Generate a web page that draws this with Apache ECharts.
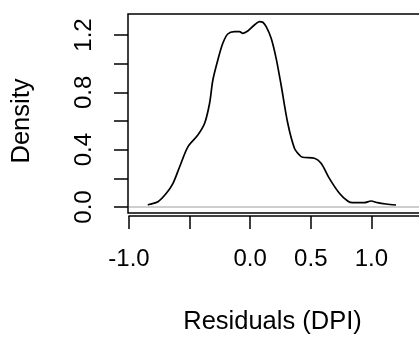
<!DOCTYPE html>
<html>
<head>
<meta charset="utf-8">
<script src="https://cdn.jsdelivr.net/npm/echarts@6/dist/echarts.min.js"></script>
<style>
  html, body { margin: 0; padding: 0; background: #fff; }
  #chart { width: 419px; height: 343px; }
</style>
</head>
<body>
<div id="chart"></div>
<script>
// density of residuals
const residX = [-0.845, -0.829, -0.761, -0.692, -0.637, -0.582, -0.514, -0.432, -0.376, -0.335,
  -0.308, -0.267, -0.226, -0.185, -0.13, -0.088, -0.061, -0.02, 0.035, 0.077,
  0.104, 0.132, 0.173, 0.214, 0.255, 0.31, 0.365, 0.406, 0.433, 0.53,
  0.585, 0.653, 0.736, 0.804, 0.846, 0.941, 0.997, 1.051, 1.12, 1.203];
const density = [0.014, 0.019, 0.037, 0.096, 0.165, 0.281, 0.42, 0.502, 0.584, 0.724,
  0.886, 1.026, 1.142, 1.207, 1.223, 1.223, 1.212, 1.228, 1.27, 1.293,
  1.289, 1.258, 1.177, 1.037, 0.851, 0.584, 0.41, 0.363, 0.347, 0.34,
  0.305, 0.2, 0.096, 0.042, 0.03, 0.03, 0.042, 0.03, 0.021, 0.014];
const xTicks = [-1.0, 0.0, 0.5, 1.0];      // labelled x ticks
const yTicks = [0.0, 0.4, 0.8, 1.2];       // labelled y ticks

const FONT = "'Liberation Sans', Arial, sans-serif";
const chart = echarts.init(document.getElementById("chart"));

const hasTick = (list, v) => list.some(t => Math.abs(t - v) < 1e-6);

chart.setOption({
  animation: false,
  backgroundColor: "#fff",
  grid: [
    // data area
    { left: 129, right: -13, top: 35, bottom: 136, outerBoundsMode: "none" },
    // frame box
    { left: 128, right: -13, top: 14, bottom: 130, outerBoundsMode: "none",
      show: true, borderColor: "#000", borderWidth: 1.5, backgroundColor: "transparent" },
  ],
  xAxis: [
    {
      gridIndex: 0, type: "value", min: -1.0, max: 1.5, interval: 0.5,
      offset: 9,
      axisLine: { show: true, onZero: false, lineStyle: { color: "#000", width: 1.5 } },
      axisTick: { show: true, length: 13, lineStyle: { color: "#000", width: 1.5 } },
      splitLine: { show: false },
      axisLabel: {
        interval: 0, margin: 31, color: "#000", fontFamily: FONT, fontSize: 24,
        formatter: v => hasTick(xTicks, v) ? v.toFixed(1) : "",
      },
      name: "Residuals (DPI)", nameLocation: "middle", nameGap: 93,
      nameTextStyle: { color: "#000", fontFamily: FONT, fontSize: 25.5, padding: [0, 16, 0, 0] },
    },
    { gridIndex: 1, type: "value", min: 0, max: 1, show: false },
  ],
  yAxis: [
    {
      gridIndex: 0, type: "value", min: 0, max: 1.2, interval: 0.2,
      offset: 1,
      axisLine: { show: false, onZero: false },
      axisTick: { show: true, length: 14, lineStyle: { color: "#000", width: 1.5 } },
      splitLine: { show: false },
      axisLabel: {
        rotate: 90, margin: 32, color: "#000", fontFamily: FONT, fontSize: 24,
        formatter: v => hasTick(yTicks, v) ? v.toFixed(1) : "",
      },
      name: "Density", nameLocation: "middle", nameGap: 93,
      nameTextStyle: { color: "#000", fontFamily: FONT, fontSize: 25.5 },
    },
    { gridIndex: 1, type: "value", min: 0, max: 1, show: false },
  ],
  series: [
    {
      type: "line",
      xAxisIndex: 0, yAxisIndex: 0,
      data: residX.map((x, i) => [x, density[i]]),
      smooth: 0.3,
      showSymbol: false,
      clip: false,
      lineStyle: { color: "#000", width: 1.7 },
      markLine: {
        silent: true, symbol: "none", label: { show: false },
        lineStyle: { color: "#bebebe", width: 1.5, type: "solid" },
        data: [{ yAxis: 0 }],
      },
    },
  ],
});
</script>
</body>
</html>
